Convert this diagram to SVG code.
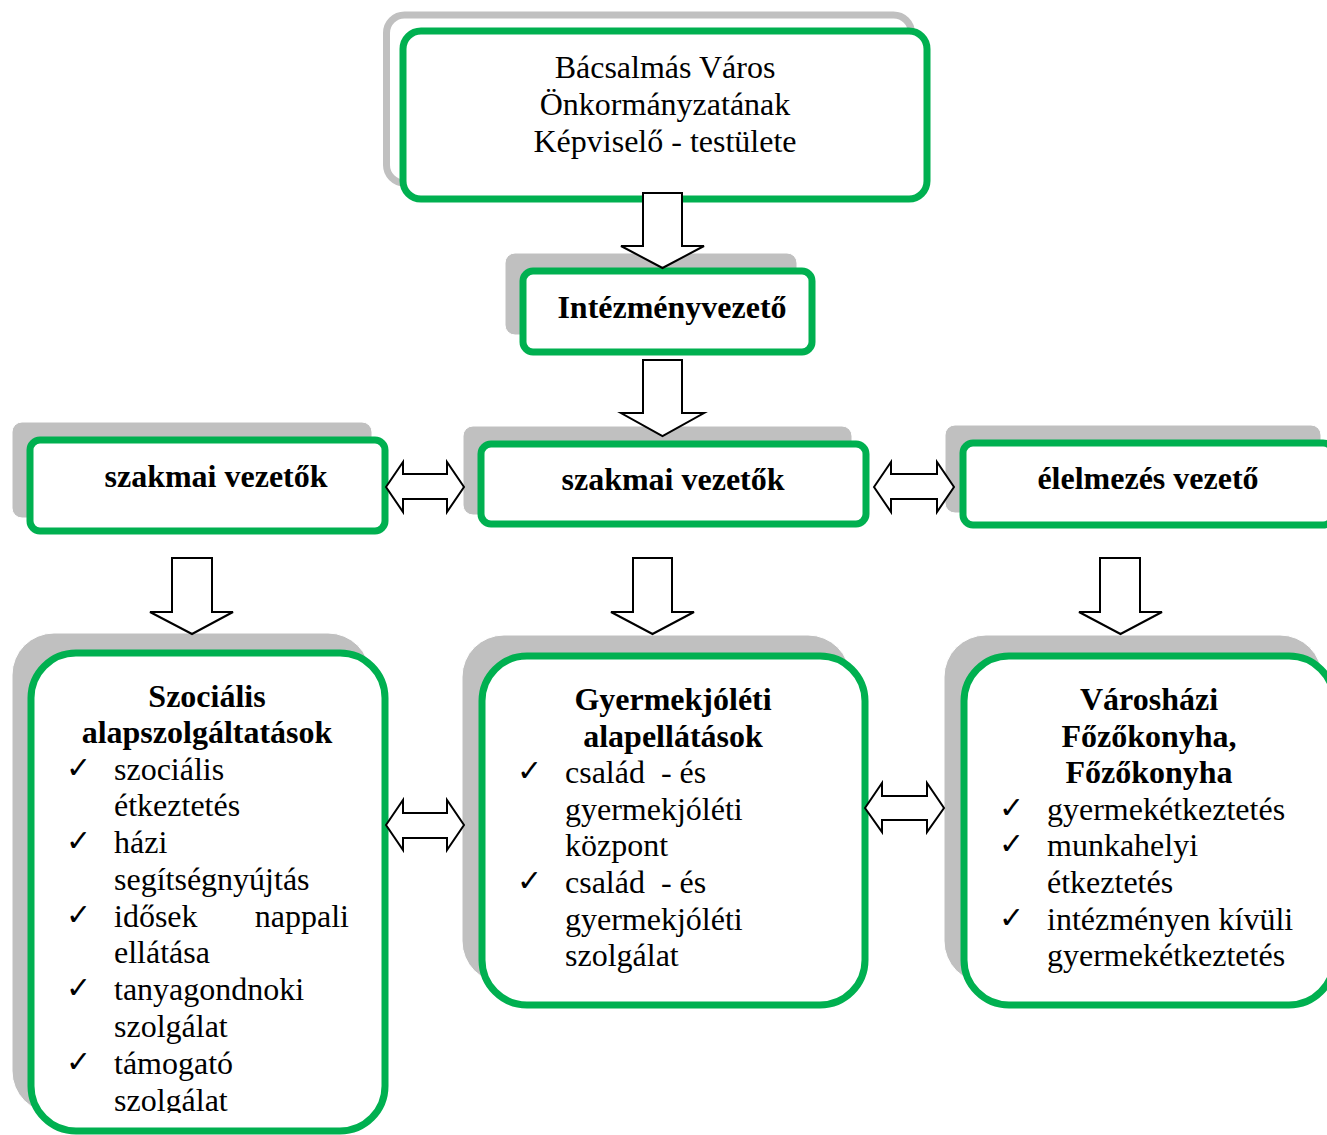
<svg xmlns="http://www.w3.org/2000/svg" width="1327" height="1135" viewBox="0 0 1327 1135">
<style>
.sh{fill:#c0c0c0;stroke:#ffffff;stroke-width:1}
.sho{fill:none;stroke:#c0c0c0;stroke-width:7}
.gb{fill:#ffffff;stroke:#00b050;stroke-width:7}
.t{font-family:"Liberation Serif","Times New Roman",serif;font-size:32px;fill:#000}
.b{font-weight:bold}
.c{text-anchor:middle}
.ck{font-family:"DejaVu Sans",sans-serif;font-size:30px;font-weight:bold;fill:#000}
.ar{fill:#ffffff;stroke:#000;stroke-width:2;stroke-linejoin:miter}
</style>
<defs>
<clipPath id="clipL"><rect x="0" y="0" width="1327" height="1113"/></clipPath>
</defs>
<rect x="0" y="0" width="1327" height="1135" fill="#ffffff"/>

<g id="kepviselo">
<rect class="sho" x="386.5" y="15" width="525" height="168" rx="18"/>
<rect class="gb" x="403" y="31" width="524" height="168" rx="18"/>
<text class="t c" x="665" y="78">Bácsalmás Város</text>
<text class="t c" x="665" y="115">Önkormányzatának</text>
<text class="t c" x="665" y="152">Képviselő - testülete</text>
</g>

<g id="intezmenyvezeto">
<rect class="sh" x="505" y="253" width="292" height="82" rx="10"/>
<rect class="gb" x="523" y="271" width="289" height="81" rx="10"/>
<text class="t b c" x="672" y="318">Intézményvezető</text>
</g>

<g id="szakmai1">
<rect class="sh" x="12" y="422" width="360" height="96" rx="10"/>
<rect class="gb" x="30" y="440" width="355" height="91" rx="10"/>
<text class="t b c" x="216" y="487">szakmai vezetők</text>
</g>

<g id="szakmai2">
<rect class="sh" x="463" y="426" width="389" height="89" rx="10"/>
<rect class="gb" x="481" y="444" width="385" height="80" rx="10"/>
<text class="t b c" x="673" y="490">szakmai vezetők</text>
</g>

<g id="elelmezes">
<rect class="sh" x="945" y="425" width="376" height="88" rx="10"/>
<rect class="gb" x="963" y="443" width="370" height="82" rx="10"/>
<text class="t b c" x="1148" y="489">élelmezés vezető</text>
</g>

<g id="szocialis">
<rect class="sh" x="12" y="633" width="358" height="480" rx="42"/>
<rect class="gb" x="31" y="653" width="354" height="478" rx="45"/>
<g clip-path="url(#clipL)">
<text class="t b c" x="207" y="707">Szociális</text>
<text class="t b c" x="207" y="743">alapszolgáltatások</text>
<text class="ck" x="66" y="778">✓</text>
<text class="t" x="114" y="780">szociális</text>
<text class="t" x="114" y="816">étkeztetés</text>
<text class="ck" x="66" y="851">✓</text>
<text class="t" x="114" y="853">házi</text>
<text class="t" x="114" y="890">segítségnyújtás</text>
<text class="ck" x="66" y="925">✓</text>
<text class="t" x="114" y="927">idősek</text>
<text class="t" x="349" y="927" text-anchor="end">nappali</text>
<text class="t" x="114" y="963">ellátása</text>
<text class="ck" x="66" y="998">✓</text>
<text class="t" x="114" y="1000">tanyagondnoki</text>
<text class="t" x="114" y="1037">szolgálat</text>
<text class="ck" x="66" y="1072">✓</text>
<text class="t" x="114" y="1074">támogató</text>
<text class="t" x="114" y="1111">szolgálat</text>
</g>
</g>

<g id="gyermekjoleti">
<rect class="sh" x="462" y="635" width="388" height="348" rx="42"/>
<rect class="gb" x="482" y="656" width="383" height="349" rx="45"/>
<text class="t b c" x="673" y="710">Gyermekjóléti</text>
<text class="t b c" x="673" y="747">alapellátások</text>
<text class="ck" x="517" y="781">✓</text>
<text class="t" x="565" y="783" xml:space="preserve">család  - és</text>
<text class="t" x="565" y="820">gyermekjóléti</text>
<text class="t" x="565" y="856">központ</text>
<text class="ck" x="517" y="891">✓</text>
<text class="t" x="565" y="893" xml:space="preserve">család  - és</text>
<text class="t" x="565" y="930">gyermekjóléti</text>
<text class="t" x="565" y="966">szolgálat</text>
</g>

<g id="fozokonyha">
<rect class="sh" x="944" y="635" width="378" height="348" rx="42"/>
<rect class="gb" x="964" y="656" width="370" height="349" rx="45"/>
<text class="t b c" x="1149" y="710">Városházi</text>
<text class="t b c" x="1149" y="747">Főzőkonyha,</text>
<text class="t b c" x="1149" y="783">Főzőkonyha</text>
<text class="ck" x="999" y="818">✓</text>
<text class="t" x="1047" y="820">gyermekétkeztetés</text>
<text class="ck" x="999" y="854">✓</text>
<text class="t" x="1047" y="856">munkahelyi</text>
<text class="t" x="1047" y="893">étkeztetés</text>
<text class="ck" x="999" y="928">✓</text>
<text class="t" x="1047" y="930">intézményen kívüli</text>
<text class="t" x="1047" y="966">gyermekétkeztetés</text>
</g>

<g id="connectors">
<path class="ar" d="M643,193 H682 V246 H704 L662.5,268 L621,246 H643 Z"/>
<path class="ar" d="M643,360 H682 V413 H704 L662.5,436 L621,413 H643 Z"/>
<path class="ar" d="M172,558 H212 V612 H233 L192,634 L150,612 H172 Z"/>
<path class="ar" d="M633,558 H672 V612 H694 L652.5,634 L611,612 H633 Z"/>
<path class="ar" d="M1100,558 H1140 V612 H1162 L1120.5,634 L1079,612 H1100 Z"/>
<path class="ar" d="M386,487 L403,462 V474 H447 V462 L464,487 L447,512 V499 H403 V512 Z"/>
<path class="ar" d="M874,487 L891,462 V474 H937 V462 L954,487 L937,512 V499 H891 V512 Z"/>
<path class="ar" d="M386,825 L403,800 V813 H447 V800 L464,825 L447,850 V838 H403 V850 Z"/>
<path class="ar" d="M865,808 L882,783 V796 H927 V783 L944,808 L927,832 V820 H882 V832 Z"/>
</g>
</svg>
